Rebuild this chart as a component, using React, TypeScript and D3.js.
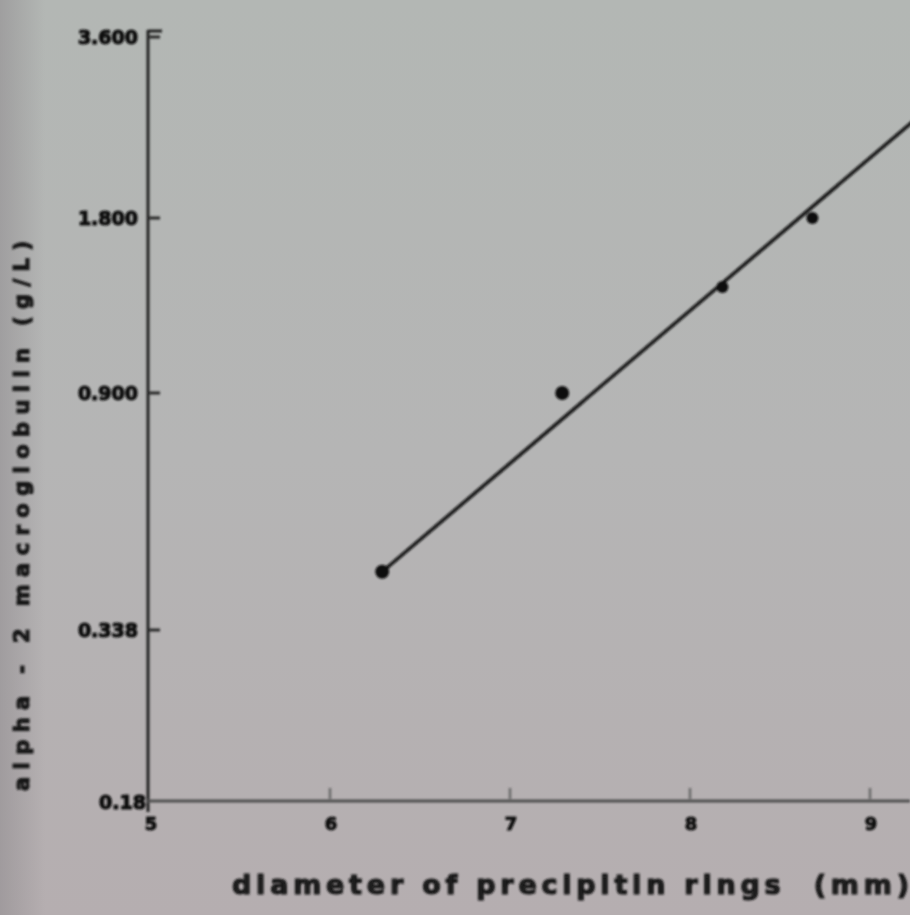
import React from "react";
import * as d3 from "d3";

// Calibration data: ring diameter (mm) vs alpha-2-macroglobulin (g/L)
const diameters = [6.29, 7.29, 8.18, 8.68];
const concentrations = [0.43, 0.9, 1.37, 1.8];
// Fitted calibration line end points
const fitX = [6.29, 9.3];
const fitY = [0.43, 2.7];

const xTicks = [5, 6, 7, 8, 9];
const yTicks = [0.18, 0.338, 0.9, 1.8, 3.6];
const yTickLabels = ["0.18", "0.338", "0.900", "1.800", "3.600"];

const W = 910;
const H = 915;

export default function App() {
  const x = d3.scaleLinear().domain([5, 9]).range([150, 870]);
  const y = d3
    .scaleLog()
    .domain(yTicks)
    .range([802, 630, 393, 218, 37]);

  const line = d3
    .line<number>()
    .x((_, i) => x(fitX[i]))
    .y((v) => y(v));

  const font = "'DejaVu Sans', Verdana, sans-serif";

  return (
    <div style={{ position: "fixed", left: 0, top: 0 }}>
      <svg width={W} height={H} style={{ display: "block" }}>
        <defs>
          <linearGradient id="paper" x1="0" y1="0" x2="0" y2="1">
            <stop offset="0" stopColor="#b3b7b4" />
            <stop offset="0.5" stopColor="#b5b5b5" />
            <stop offset="1" stopColor="#b5aeb0" />
          </linearGradient>
          <linearGradient id="edge" x1="0" y1="0" x2="1" y2="0">
            <stop offset="0" stopColor="#8f8b8e" stopOpacity="0.55" />
            <stop offset="1" stopColor="#8f8b8e" stopOpacity="0" />
          </linearGradient>
          <filter id="soft" x="-5%" y="-5%" width="110%" height="110%">
            <feGaussianBlur stdDeviation="1" />
          </filter>
        </defs>
        <rect width={W} height={H} fill="url(#paper)" />
        <rect width={45} height={H} fill="url(#edge)" />

        <g filter="url(#soft)">
          {/* y axis */}
          <line x1={148} x2={148} y1={30} y2={812} stroke="#202020" strokeWidth={3} />
          <line x1={148} x2={162} y1={31} y2={31} stroke="#202020" strokeWidth={3} />
          {yTicks.slice(1).map((t) => (
            <line key={t} x1={148} x2={160} y1={y(t)} y2={y(t)} stroke="#2a2a2a" strokeWidth={3} />
          ))}
          {yTicks.map((t, i) => (
            <text
              key={t}
              x={i === 0 ? 146 : 138}
              y={y(t)}
              dy="0.35em"
              textAnchor="end"
              fontFamily={font}
              fontWeight="bold"
              fontSize={19}
              stroke="#111"
              strokeWidth={1.2}
              fill="#111"
            >
              {yTickLabels[i]}
            </text>
          ))}

          {/* x axis */}
          <line x1={146} x2={W} y1={801} y2={801} stroke="#505050" strokeWidth={3} />
          {xTicks.slice(1).map((t) => (
            <line key={t} x1={x(t)} x2={x(t)} y1={788} y2={799} stroke="#6a6a6a" strokeWidth={2.5} />
          ))}
          {xTicks.map((t) => (
            <text
              key={t}
              x={x(t) + 1}
              y={830}
              textAnchor="middle"
              fontFamily={font}
              fontWeight="bold"
              fontSize={18}
              stroke="#111"
              strokeWidth={1}
              fill="#111"
            >
              {t}
            </text>
          ))}

          {/* axis titles */}
          <text
            x={232}
            y={894}
            textLength={677}
            lengthAdjust="spacing"
            fontFamily={font}
            fontWeight="bold"
            fontSize={27}
            stroke="#1a1a1a"
            strokeWidth={1.2}
            fill="#1a1a1a"
          >
            diameter of precipitin rings {"\u00a0"}(mm)
          </text>
          <text
            transform="translate(29,516) rotate(-90)"
            textAnchor="middle"
            textLength={550}
            lengthAdjust="spacing"
            fontFamily={font}
            fontWeight="bold"
            fontSize={21}
            stroke="#1a1a1a"
            strokeWidth={1.2}
            fill="#1a1a1a"
          >
            alpha - 2 macroglobulin (g/L)
          </text>

          {/* fitted line */}
          <path d={line(fitY) ?? ""} fill="none" stroke="#141414" strokeWidth={3.5} />

          {/* measured points */}
          {diameters.map((d, i) => (
            <circle key={d} cx={x(d)} cy={y(concentrations[i])} r={i < 2 ? 7 : 6} fill="#111" />
          ))}
        </g>
      </svg>
    </div>
  );
}
